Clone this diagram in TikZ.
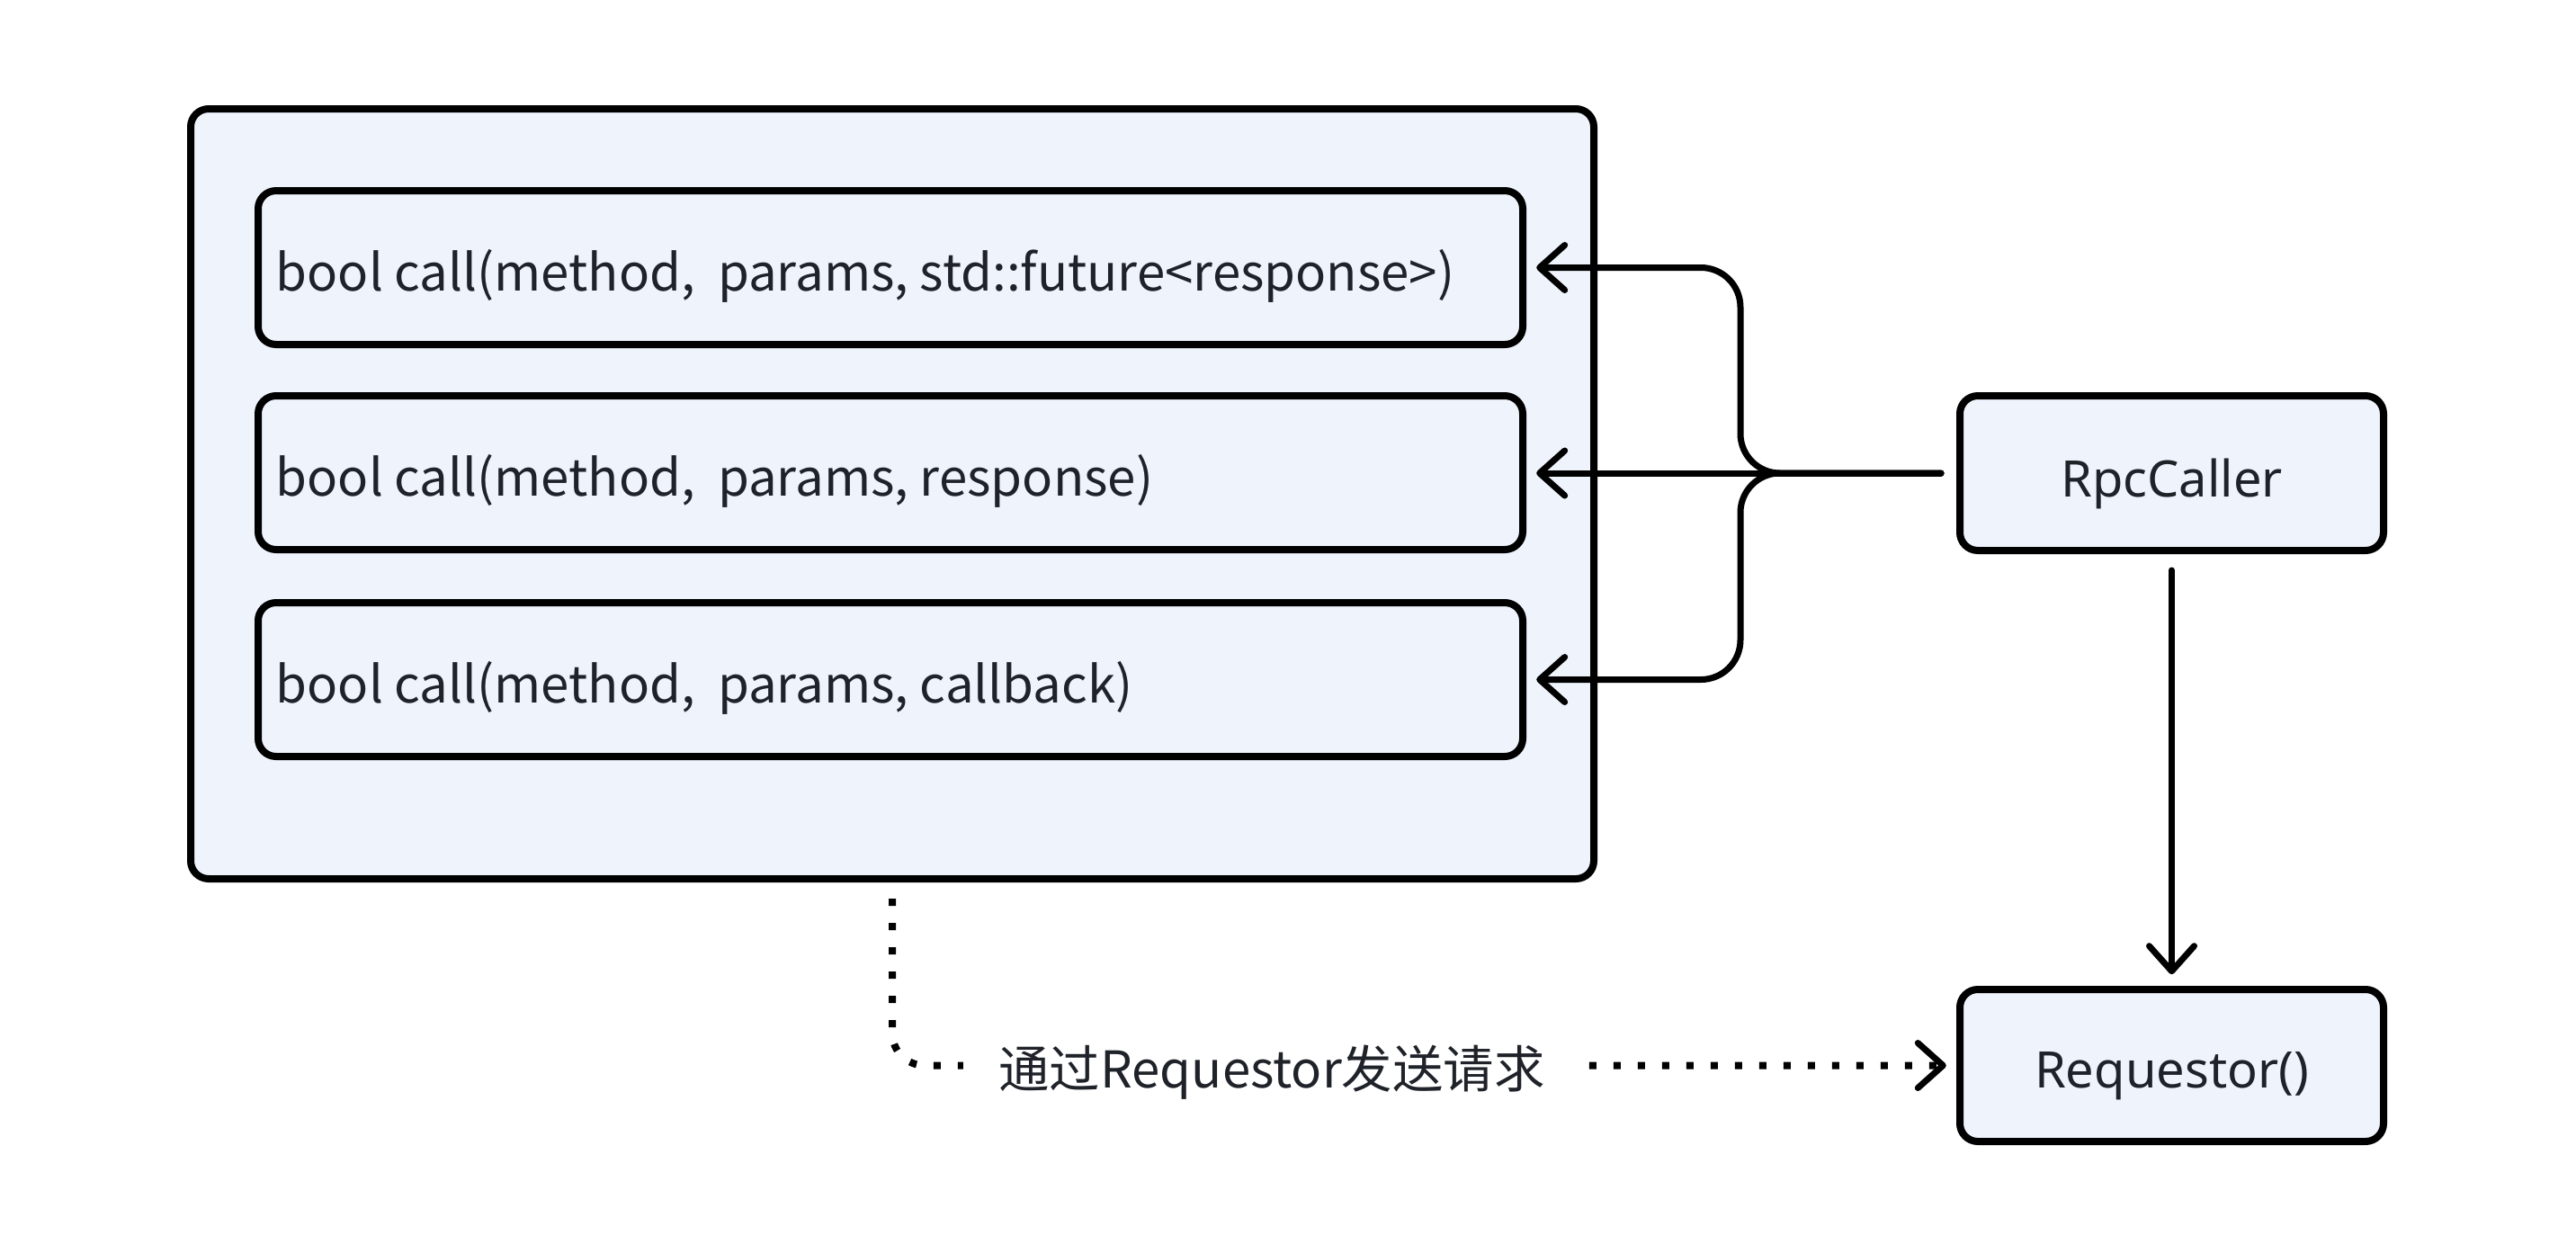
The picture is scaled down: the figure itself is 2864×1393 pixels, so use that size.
\documentclass[tikz,border=0pt]{standalone}
\usepackage{fontspec}
\setmainfont{Noto Sans CJK SC}
\newfontfamily\widefont{Noto Sans}
\usetikzlibrary{arrows.meta,calc}
\definecolor{boxfill}{RGB}{239,244,252}
\definecolor{txt}{RGB}{31,35,41}
\begin{document}
\begin{tikzpicture}[x=0.25pt,y=-0.25pt,
  box/.style={draw=black, line width=2pt, fill=boxfill, rounded corners=5pt, inner sep=0pt},
  txtnode/.style={text=txt, font=\fontsize{14.1pt}{17pt}\selectfont, anchor=west, inner sep=0pt, yshift=-2.4pt},
  captext/.style={text=txt, font=\widefont\fontsize{14pt}{17pt}\selectfont, inner sep=0pt, yshift=-3pt},
  conn/.style={line width=1.75pt, line cap=round, line join=round,
    -{Straight Barb[length=7pt,width=12.5pt,line width=1.75pt,round]}},
  dotconn/.style={line width=2pt, line cap=butt, dash pattern=on 2pt off 4.75pt,
    -{Straight Barb[length=7pt,width=12.5pt,line width=1.75pt,round]}},
]
\useasboundingbox (0,0) rectangle (2864,1393);
\node[box, minimum width=390pt, minimum height=214pt] (outer) at (992,549) {};
\node[box, minimum width=351.5pt, minimum height=42.75pt] (b1) at (990,297.5) {};
\node[box, minimum width=351.5pt, minimum height=42.75pt] (b2) at (990,525.5) {};
\node[box, minimum width=351.5pt, minimum height=42.75pt] (b3) at (990,755.5) {};
\node[txtnode] (t1) at ($(b1.west)+(23,0)$) {bool call(method,~ params, std::future<response>)};
\node[txtnode] (t2) at ($(b2.west)+(23,0)$) {bool call(method,~ params, response)};
\node[txtnode] (t3) at ($(b3.west)+(23,0)$) {bool call(method,~ params, callback)};
\node[box, minimum width=117.75pt, minimum height=43pt] (rpc) at (2414.5,526) {};
\node[box, minimum width=117.75pt, minimum height=42.25pt] (req) at (2414.5,1184.5) {};
\node[captext] (rpct) at (rpc.center) {RpcCaller};
\node[captext] (reqt) at (req.center) {Requestor()};
\coordinate (jx) at (1935,0);
\draw[conn, rounded corners=11pt, shorten <=4.25pt, shorten >=2.8pt]
  (rpc.west) -- (rpc.west -| jx) -- (jx |- b1.east) -- (b1.east);
\draw[conn, shorten <=4.25pt, shorten >=2.8pt] (rpc.west) -- (rpc.west -| b2.east);
\draw[conn, rounded corners=11pt, shorten <=4.25pt, shorten >=2.8pt]
  (rpc.west) -- (rpc.west -| jx) -- (jx |- b3.east) -- (b3.east);
\draw[conn, shorten <=4.5pt, shorten >=3.2pt] (rpc.south) -- (req.north);
\draw[dotconn, rounded corners=9pt, shorten <=4.5pt, shorten >=2.8pt] (outer.south) |- (req.west);
\node[fill=white, inner xsep=10pt, inner ysep=2pt, text=txt, font=\fontsize{14.1pt}{17pt}\selectfont, yshift=-1.5pt] (lbl) at (1414,1186) {通过Requestor发送请求};
\end{tikzpicture}
\end{document}
